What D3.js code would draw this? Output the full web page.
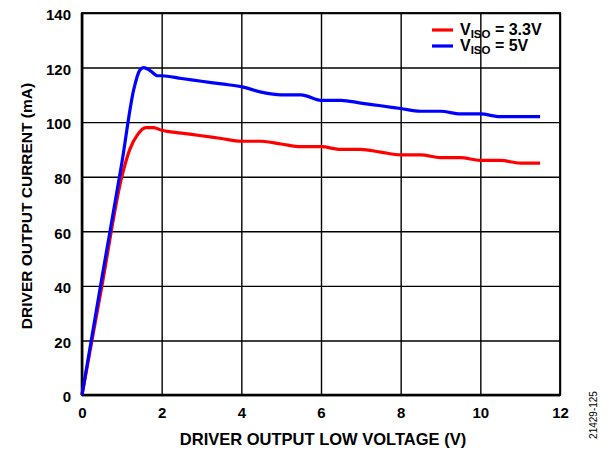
<!DOCTYPE html>
<html>
<head>
<meta charset="utf-8">
<script src="https://cdn.jsdelivr.net/npm/d3@7"></script>
<style>
  body { margin: 0; background: #fff; }
  text { font-family: "Liberation Sans", Arial, sans-serif; font-weight: bold; }
</style>
</head>
<body>
<div id="chart"></div>
<script>
// Data
var xTicks = [0, 2, 4, 6, 8, 10, 12];
var yTicks = [0, 20, 40, 60, 80, 100, 120, 140];

var v33X = [0, 0.5, 1.0, 1.2, 1.4, 1.6, 1.8, 2, 2.5, 3, 3.5, 4, 4.5, 5, 5.5, 6, 6.5, 7, 7.5, 8, 8.5, 9, 9.5, 10, 10.5, 11, 11.5];
var v33Y = [0, 40, 80, 90, 95.5, 98, 98, 97, 96, 95, 94, 93, 93, 92, 91, 91, 90, 90, 89, 88, 88, 87, 87, 86, 86, 85, 85];

var v5X = [0, 0.5, 1.0, 1.3, 1.45, 1.55, 1.7, 1.9, 2, 2.5, 3, 3.5, 4, 4.5, 5, 5.5, 6, 6.5, 7, 7.5, 8, 8.5, 9, 9.5, 10, 10.5, 11, 11.5];
var v5Y = [0, 43, 85, 112, 119, 120, 119, 117, 117, 116, 115, 114, 113, 111, 110, 110, 108, 108, 107, 106, 105, 104, 104, 103, 103, 102, 102, 102];

var svgWidth = 607;
var svgHeight = 449;
var margin = { top: 13, right: 47, bottom: 54, left: 82 };
var width = svgWidth - margin.left - margin.right;
var height = svgHeight - margin.top - margin.bottom;

var svg = d3.select("#chart")
  .append("svg")
  .attr("width", svgWidth)
  .attr("height", svgHeight);

var chartGroup = svg.append("g")
  .attr("transform", `translate(${margin.left}, ${margin.top})`);

var x = d3.scaleLinear().domain([0, 12]).range([0, width]);
var y = d3.scaleLinear().domain([0, 140]).range([height, 0]);

// grid (axes with full-length ticks)
var xGrid = chartGroup.append("g")
  .attr("transform", `translate(0, ${height})`)
  .call(d3.axisBottom(x).tickValues(xTicks).tickSize(-height).tickFormat(""));
xGrid.select(".domain").remove();
xGrid.selectAll("line").attr("stroke", "#000").attr("stroke-width", 1.4);

var yGrid = chartGroup.append("g")
  .call(d3.axisLeft(y).tickValues(yTicks).tickSize(-width).tickFormat(""));
yGrid.select(".domain").remove();
yGrid.selectAll("line").attr("stroke", "#000").attr("stroke-width", 1.4);

// frame
chartGroup.append("rect")
  .attr("x", 0).attr("y", 0)
  .attr("width", width).attr("height", height)
  .attr("fill", "none")
  .attr("stroke", "#000").attr("stroke-width", 1.8);

chartGroup.append("line")
  .attr("x1", 0).attr("x2", width)
  .attr("y1", height).attr("y2", height)
  .attr("stroke", "#000").attr("stroke-width", 2.6);

chartGroup.append("line")
  .attr("x1", 0).attr("x2", 0)
  .attr("y1", 0).attr("y2", height)
  .attr("stroke", "#000").attr("stroke-width", 2.6);

// axes labels
var bottomAxis = d3.axisBottom(x).tickValues(xTicks).tickSize(0).tickPadding(12);
var leftAxis = d3.axisLeft(y).tickValues(yTicks).tickSize(0).tickPadding(11);

var gx = chartGroup.append("g")
  .attr("transform", `translate(0, ${height})`)
  .call(bottomAxis);
gx.select(".domain").remove();
gx.selectAll("text").attr("font-size", "15px").attr("fill", "#000")
  .style("font-family", "'Liberation Sans', Arial, sans-serif").style("font-weight", "bold");

var gy = chartGroup.append("g")
  .call(leftAxis);
gy.select(".domain").remove();
gy.selectAll("text").attr("font-size", "15px").attr("fill", "#000").attr("dy", "0.45em")
  .style("font-family", "'Liberation Sans', Arial, sans-serif").style("font-weight", "bold");

// lines
var line = d3.line()
  .x(d => x(d[0]))
  .y(d => y(d[1]))
  .curve(d3.curveMonotoneX);

chartGroup.append("path")
  .datum(d3.zip(v33X, v33Y))
  .attr("d", line)
  .attr("fill", "none")
  .attr("stroke", "#ff0000")
  .attr("stroke-width", 3.2);

chartGroup.append("path")
  .datum(d3.zip(v5X, v5Y))
  .attr("d", line)
  .attr("fill", "none")
  .attr("stroke", "#0000ff")
  .attr("stroke-width", 3.2);

// axis titles
svg.append("text")
  .attr("x", 323)
  .attr("y", 445)
  .attr("text-anchor", "middle")
  .attr("font-size", "16.5px")
  .text("DRIVER OUTPUT LOW VOLTAGE (V)");

svg.append("text")
  .attr("transform", "translate(32, 206) rotate(-90)")
  .attr("text-anchor", "middle")
  .attr("font-size", "15.5px")
  .text("DRIVER OUTPUT CURRENT (mA)");

// legend
var legend = svg.append("g");
var legendItems = [
  { color: "#ff0000", value: " = 3.3V", y: 30 },
  { color: "#0000ff", value: " = 5V", y: 46 }
];
legendItems.forEach(function(item) {
  legend.append("line")
    .attr("x1", 432).attr("x2", 453)
    .attr("y1", item.y).attr("y2", item.y)
    .attr("stroke", item.color).attr("stroke-width", 3.2);
  var t = legend.append("text")
    .attr("x", 460)
    .attr("y", item.y + 5)
    .attr("font-size", "16px");
  t.append("tspan").text("V");
  t.append("tspan").attr("dy", 3).attr("font-size", "11.5px").text("ISO");
  t.append("tspan").attr("dy", -3).text(item.value);
});

// figure id
svg.append("text")
  .attr("transform", "translate(597, 415) rotate(-90)")
  .attr("text-anchor", "middle")
  .attr("font-size", "10px")
  .style("font-weight", "normal")
  .text("21429-125");
</script>
</body>
</html>
